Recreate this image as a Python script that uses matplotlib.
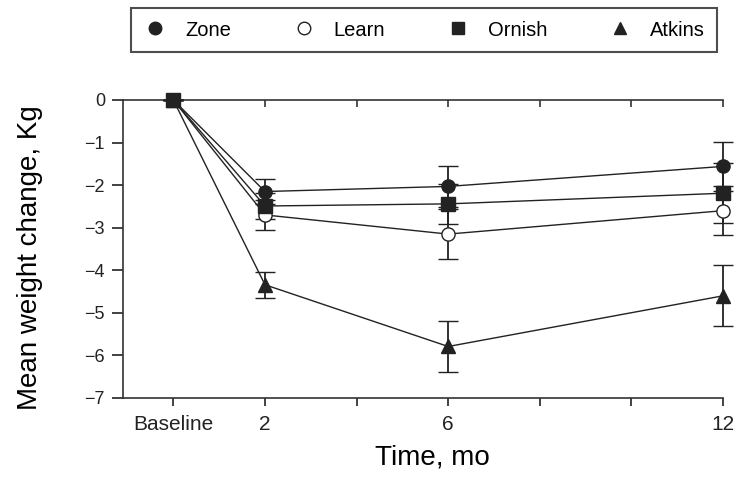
import matplotlib
matplotlib.use("Agg")
import matplotlib.pyplot as plt
from matplotlib.lines import Line2D

plt.rcParams['font.family'] = ['Liberation Sans', 'DejaVu Sans']

months = [0, 2, 6, 12]
zone = [0, -2.15, -2.03, -1.56]
zone_err = [0, 0.29, 0.48, 0.57]
learn = [0, -2.70, -3.15, -2.60]
learn_err = [0, 0.35, 0.58, 0.57]
ornish = [0, -2.49, -2.44, -2.19]
ornish_err = [0, 0.30, 0.47, 0.70]
atkins = [0, -4.34, -5.79, -4.60]
atkins_err = [0, 0.31, 0.61, 0.72]

xtick_pos = [0, 2, 4, 6, 8, 10, 12]
xtick_labels = ['Baseline', '2', '', '6', '', '', '12']
ytick_pos = [0, -1, -2, -3, -4, -5, -6, -7]
ytick_labels = ['0', '\u22121', '\u22122', '\u22123', '\u22124', '\u22125', '\u22126', '\u22127']

fig = plt.figure(figsize=(7.42, 4.83), dpi=100)
ax = fig.add_axes([123/742, 1-398/483, (723-123)/742, 298/483])

series = [
    ('Zone', zone, zone_err, dict(marker='o', mfc='#222222', mec='#222222')),
    ('Learn', learn, learn_err, dict(marker='o', mfc='white', mec='#222222')),
    ('Ornish', ornish, ornish_err, dict(marker='s', mfc='#222222', mec='#222222')),
    ('Atkins', atkins, atkins_err, dict(marker='^', mfc='#222222', mec='#222222')),
]
handles = []
for name, vals, err, st in series:
    ax.errorbar(months, vals, yerr=err, color='#222222', lw=1.0, elinewidth=1.3,
                capsize=7, capthick=1.6, markersize=9.5, mew=1.0, clip_on=False,
                zorder=3, **st)
    handles.append(Line2D([], [], ls='none', markersize=9, color='#222222', **st))

ax.set_xlim(-1.1, 12)
ax.set_ylim(-7, 0)
ax.set_xticks(xtick_pos)
ax.set_xticklabels(xtick_labels, fontsize=15)
ax.set_yticks(ytick_pos)
ax.set_yticklabels(ytick_labels, fontsize=13)
ax.tick_params(axis='both', direction='out', length=6, width=1.2, colors='#222222')
ax.tick_params(axis='y', length=8, pad=5)
ax.tick_params(axis='x', pad=6)
ax.spines['right'].set_visible(False)
for s in ['left', 'bottom', 'top']:
    ax.spines[s].set_linewidth(1.2)
    ax.spines[s].set_color('#333333')

sec = ax.secondary_xaxis('top')
sec.set_xticks(xtick_pos[1:])
sec.set_xticklabels([])
sec.tick_params(direction='in', length=5, width=1.2, colors='#333333')
sec.spines['top'].set_visible(False)

ax.set_xlabel('Time, mo', fontsize=20)
ax.xaxis.set_label_coords(0.515, -0.155)
ax.set_ylabel('Mean weight change, Kg', fontsize=20)
ax.yaxis.set_label_coords(-0.133, 0.47)

leg = fig.legend(handles, ['Zone', 'Learn', 'Ornish', 'Atkins'], loc='center',
                 bbox_to_anchor=(424/742, 1-30/483), ncol=4, fontsize=14.5,
                 frameon=True, fancybox=False, edgecolor='#222222',
                 handletextpad=0.9, columnspacing=3.0, borderpad=0.6,
                 handlelength=1.2)
leg.get_frame().set_linewidth(1.5)

fig.savefig('out.png', dpi=100)
